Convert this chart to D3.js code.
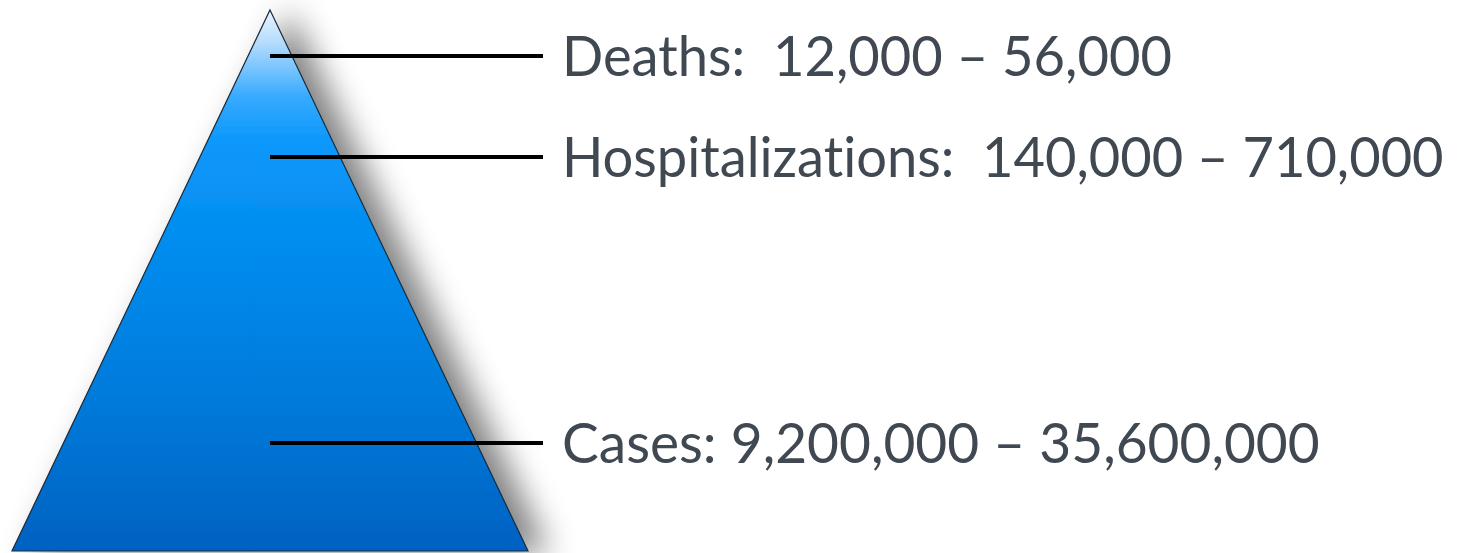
<!DOCTYPE html>
<html><head><meta charset="utf-8">
<script src="https://cdn.jsdelivr.net/npm/d3@7"></script>
<style>html,body{margin:0;padding:0;background:#fff;overflow:hidden}</style>
</head><body>
<script>
const categories = ["Deaths", "Hospitalizations", "Cases"];
const lowValues = [12000, 140000, 9200000];
const highValues = [56000, 710000, 35600000];
const separators = [":  ", ":  ", ": "];

const W = 1468, H = 553;
const svg = d3.select("body").append("svg").attr("width", W).attr("height", H);
const defs = svg.append("defs");

const grad = defs.append("linearGradient").attr("id", "pg")
  .attr("x1", 0).attr("y1", 0).attr("x2", 0).attr("y2", 1);
[[0, "#e8f5ff"], [0.06, "#b5dcfd"], [0.16, "#37aaff"], [0.24, "#0c98fb"],
 [0.5, "#0089ea"], [0.75, "#0078d8"], [1, "#0061c2"]]
  .forEach(([o, c]) => grad.append("stop").attr("offset", o).attr("stop-color", c));

const f = defs.append("filter").attr("id", "sh").attr("x", "-20%").attr("y", "-10%").attr("width", "160%").attr("height", "130%");
f.append("feGaussianBlur").attr("in", "SourceAlpha").attr("stdDeviation", 16).attr("result", "b");
f.append("feOffset").attr("in", "b").attr("dx", 20).attr("dy", 2).attr("result", "o");
f.append("feComponentTransfer").attr("in", "o").attr("result", "oc")
  .append("feFuncA").attr("type", "linear").attr("slope", 0.5);
const fm = f.append("feMerge");
fm.append("feMergeNode").attr("in", "oc");
fm.append("feMergeNode").attr("in", "SourceGraphic");

// pyramid geometry via scales
const x = d3.scaleLinear().domain([-1, 1]).range([12, 528]);
const y = d3.scaleLinear().domain([0, 1]).range([10, 551]);
const apexX = x(0);

svg.append("path")
  .attr("d", d3.line()([[x(0), y(0)], [x(1), y(1)], [x(-1), y(1)]]) + "Z")
  .attr("fill", "url(#pg)")
  .attr("stroke", "#1a2a3a").attr("stroke-width", 1.2)
  .attr("filter", "url(#sh)");

const yLevel = d3.scaleOrdinal().domain(categories).range([56, 157, 443]);
const fmt = d3.format(",");

const rows = categories.map((c, i) => ({ c, lo: lowValues[i], hi: highValues[i], sep: separators[i] }));

svg.selectAll("line.lead").data(rows).join("line")
  .attr("class", "lead")
  .attr("x1", apexX).attr("x2", 543)
  .attr("y1", d => yLevel(d.c)).attr("y2", d => yLevel(d.c))
  .attr("stroke", "#000").attr("stroke-width", 4);

const textWidths = [610, 882, 758];
svg.selectAll("text.lab").data(rows).join("text")
  .attr("class", "lab")
  .attr("x", 0).attr("y", 0)
  .attr("font-family", "Lato, 'Open Sans', sans-serif")
  .attr("font-size", 56)
  .attr("fill", "#404852")
  .style("white-space", "pre")
  .style("font-variant-ligatures", "none")
  .text(d => d.c + d.sep + fmt(d.lo) + " \u2013 " + fmt(d.hi))
  .attr("transform", function(d, i) {
    const w = this.getComputedTextLength() || textWidths[i];
    return `translate(562,${yLevel(d.c) + 20}) scale(${textWidths[i] / w},1)`;
  });
</script>
</body></html>
